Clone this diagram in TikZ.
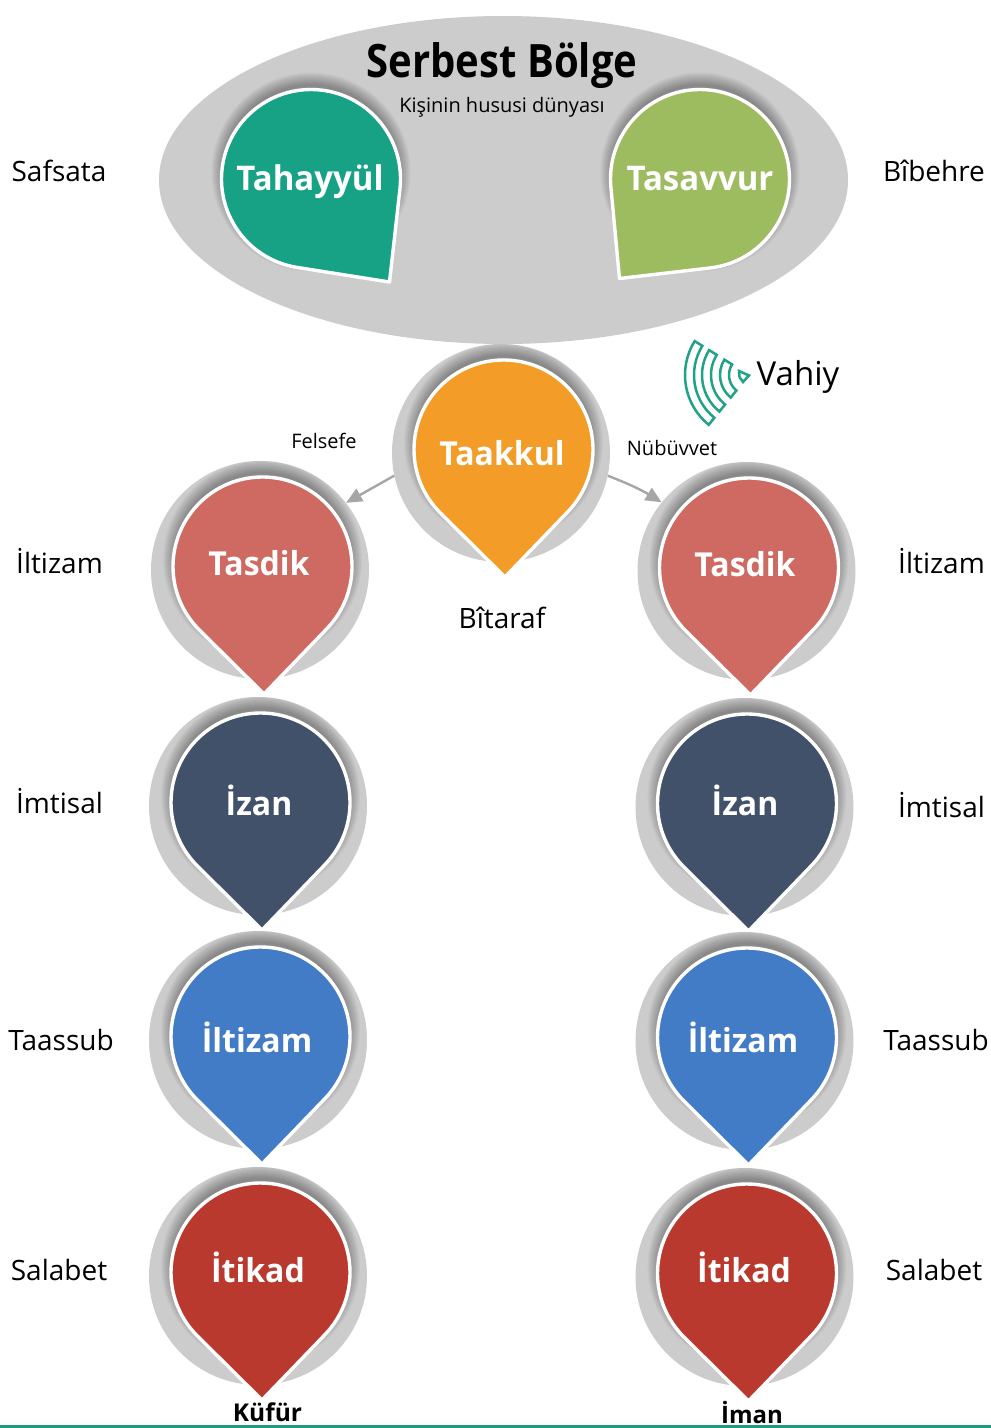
\documentclass[tikz,border=0pt]{standalone}
\usepackage{fontspec}
\setmainfont{Open Sans}
\newfontfamily\titlefont[FakeStretch=.87]{Open Sans}
\newfontfamily\pinfont[FakeStretch=.97]{Open Sans}
\usetikzlibrary{arrows.meta,shapes.geometric}
\definecolor{ringgray}{HTML}{CCCCCC}
\definecolor{arrowgray}{HTML}{A6A6A6}
\definecolor{tealpin}{HTML}{17A185}
\definecolor{iconteal}{HTML}{1FA287}
\definecolor{olivegreen}{HTML}{9DBB5F}
\definecolor{orangepin}{HTML}{F39C28}
\definecolor{rosepin}{HTML}{CE6A62}
\definecolor{slatepin}{HTML}{415169}
\definecolor{bluepin}{HTML}{427CC6}
\definecolor{redpin}{HTML}{BA392E}
\definecolor{barcol}{HTML}{1F9C7E}
\tikzset{
  ringnode/.style={circle,fill=ringgray,draw=none,inner sep=0pt,minimum size=218pt},
  pintext/.style={text=white,font=\fontsize{#1}{#1}\selectfont\pinfont\bfseries,inner sep=0pt},
  lbl/.style={text=black,font=\fontsize{#1}{#1}\selectfont,inner sep=0pt},
  blbl/.style={text=black,font=\fontsize{#1}{#1}\selectfont\bfseries,inner sep=0pt},
  titlelbl/.style={text=black,font=\fontsize{#1}{#1}\selectfont\titlefont\bfseries,inner sep=0pt},
  linkarrow/.style={draw=arrowgray,line width=2.4pt,-{Triangle[length=16pt,width=14pt]}},
  iconline/.style={draw=iconteal,line width=2.5pt,line join=miter},
}
% #1,#2 circle centre; #3,#4 tip; #5 radius; #6 colour; clip is set by the caller through \pinclip
\newcommand{\tearpin}[6]{%
  \pgfmathsetmacro{\ddx}{#3-(#1)}%
  \pgfmathsetmacro{\ddy}{(#2)-(#4)}%
  \pgfmathsetmacro{\dd}{veclen(\ddx,\ddy)}%
  \pgfmathsetmacro{\thet}{atan2(\ddy,\ddx)}%
  \pgfmathsetmacro{\gam}{acos(#5/\dd)}%
  \pgfmathsetmacro{\sa}{\thet+\gam}%
  \pgfmathsetmacro{\ea}{\thet+360-\gam}%
  \pgfmathsetmacro{\shr}{#5-3}%
  \begin{scope}
    \pinclip
    \foreach \w in {2,4,...,26}{%
      \begin{scope}[shift={(#1,#2)},y=1pt,yshift=7pt]
        \draw[black,opacity=.028,line width=\w pt] (0,0) circle[radius=\shr];
      \end{scope}}
  \end{scope}
  \begin{scope}[shift={(#1,#2)},y=1pt]
    \filldraw[fill=#6,draw=white,line width=3.4pt,line join=round]
      (\ddx,\ddy) -- (\sa:#5) arc[start angle=\sa,end angle=\ea,radius=#5] -- cycle;
  \end{scope}}
% ring pin: #1 node name, #2,#3 ring centre, #4 colour
\newcommand{\ringpin}[4]{%
  \node[ringnode] (#1) at (#2,#3) {};
  \def\pinclip{\clip (#2,#3) circle[radius=109.5];}%
  \pgfmathsetmacro{\px}{#2+2.5}\pgfmathsetmacro{\py}{#3-3.5}%
  \pgfmathsetmacro{\tx}{#2+4}\pgfmathsetmacro{\ty}{#3+124}%
  \tearpin{\px}{\py}{\tx}{\ty}{89.5}{#4}}
\begin{document}
\begin{tikzpicture}[x=1pt,y=-1pt]
\useasboundingbox (0,0) rectangle (991,1428);
\fill[white] (0,0) rectangle (991,1428);
\fill[barcol] (0,1425) rectangle (991,1428);

% Free zone
\node[ellipse,fill=ringgray,inner sep=0pt,minimum width=689pt,minimum height=328pt] (zone) at (503.5,180) {};
\def\pinclip{\clip (503.5,180) ellipse[x radius=344.5,y radius=164];}
\tearpin{311}{179}{389.5}{282}{89.5}{tealpin}
\tearpin{700}{179}{619.5}{278.5}{89.5}{olivegreen}

\ringpin{rTaakkul}{501}{453}{orangepin}
\ringpin{rTasdikL}{260}{570}{rosepin}
\ringpin{rTasdikR}{746.5}{571}{rosepin}
\ringpin{rIzanL}{258}{806}{slatepin}
\ringpin{rIzanR}{744.5}{807}{slatepin}
\ringpin{rIltizamL}{258}{1040}{bluepin}
\ringpin{rIltizamR}{744.5}{1041}{bluepin}
\ringpin{rItikadL}{258}{1276}{redpin}
\ringpin{rItikadR}{744.5}{1277}{redpin}

% Connectors
\draw[linkarrow] (rTaakkul.192) -- (rTasdikL.38);
\draw[linkarrow] (rTaakkul.-12) to[bend left=5] (rTasdikR.141);

% Icon
\begin{scope}[shift={(749,375)},y=1pt]
  \foreach \ri/\ro in {20/29,38/47,55/64}{
    \draw[iconline] (148:\ro) arc[start angle=148,end angle=231,radius=\ro] -- (231:\ri)
      arc[start angle=231,end angle=148,radius=\ri] -- cycle;
  }
\end{scope}
\draw[iconline] (739,371) -- (749,375.5) -- (743,382) -- (739.5,377) -- cycle;

% Text
\node[titlelbl=46] (tSerbest) at (502,66) {Serbest Bölge};
\node[lbl=20] (tKisi) at (502,107) {Kişinin hususi dünyası};
\node[pintext=34] (tTahayyul) at (310,182) {Tahayyül};
\node[pintext=34] (tTasavvur) at (700,179) {Tasavvur};
\node[lbl=28] (tSafsata) at (59,171) {Safsata};
\node[lbl=28] (tBibehre) at (934,171) {Bîbehre};
\node[lbl=33] (tVahiy) at (798,377) {Vahiy};
\node[lbl=20] (tFelsefe) at (324,441) {Felsefe};
\node[lbl=20] (tNubuvvet) at (672,448) {Nübüvvet};
\node[pintext=33] (tTaakkul) at (502,453) {Taakkul};
\node[lbl=28] (tBitaraf) at (502,618) {Bîtaraf};
\node[pintext=33] (tTasdikL) at (259,563) {Tasdik};
\node[pintext=33] (tTasdikR) at (745,564) {Tasdik};
\node[pintext=33] (tIzanL) at (259,800) {İzan};
\node[pintext=33] (tIzanR) at (745,800) {İzan};
\node[pintext=33] (tIltizamL) at (257,1037) {İltizam};
\node[pintext=33] (tIltizamR) at (743,1037) {İltizam};
\node[pintext=33] (tItikadL) at (258,1267) {İtikad};
\node[pintext=33] (tItikadR) at (744,1267) {İtikad};
\node[lbl=28] (lIltizamL) at (59.5,561) {İltizam};
\node[lbl=28] (lIltizamR) at (941.5,561) {İltizam};
\node[lbl=28] (lImtisalL) at (59.5,801) {İmtisal};
\node[lbl=28] (lImtisalR) at (941.5,805) {İmtisal};
\node[lbl=28] (lTaassubL) at (61,1040) {Taassub};
\node[lbl=28] (lTaassubR) at (936,1040) {Taassub};
\node[lbl=28] (lSalabetL) at (59,1270) {Salabet};
\node[lbl=28] (lSalabetR) at (934,1270) {Salabet};
\node[blbl=24.5] (lKufur) at (267.5,1412) {Küfür};
\node[blbl=24] (lIman) at (752,1413) {İman};
\end{tikzpicture}
\end{document}
